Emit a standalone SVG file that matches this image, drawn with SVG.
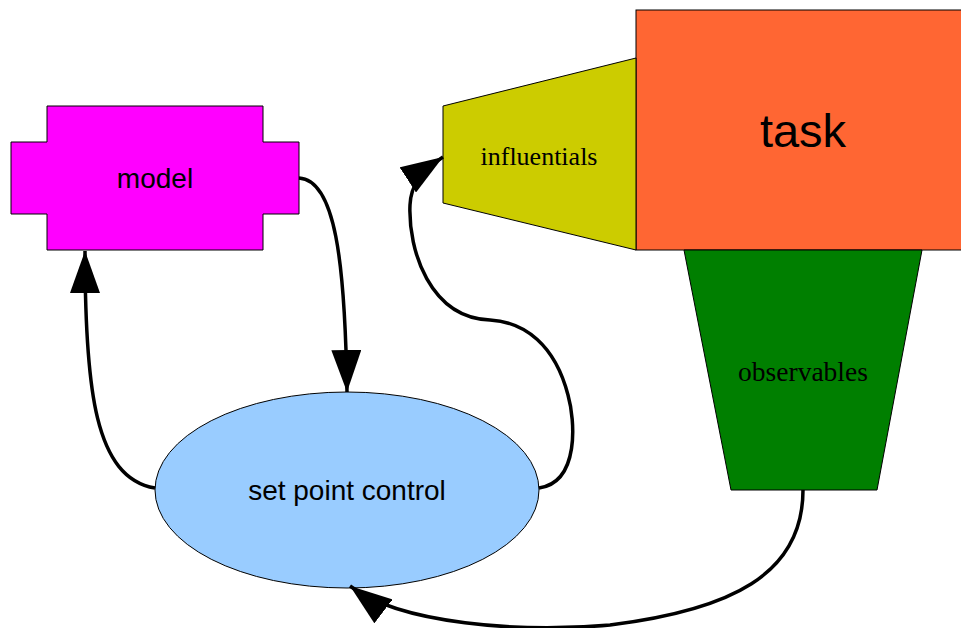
<svg xmlns="http://www.w3.org/2000/svg" width="961" height="628" viewBox="0 0 961 628">
<style>
.shape{stroke:#000;stroke-width:1}
.sans{font-family:"Liberation Sans",Arial,sans-serif;fill:#000;text-anchor:middle}
.serif{font-family:"Liberation Serif","Times New Roman",serif;fill:#000;text-anchor:middle}
.conn{fill:none;stroke:#000;stroke-width:3.5}
</style>
<defs>
<marker id="arr" markerUnits="userSpaceOnUse" viewBox="0 0 42 30" markerWidth="42" markerHeight="30" refX="42" refY="15" orient="auto">
<path d="M0,0 L42,15 L0,30 z" fill="#000"/>
</marker>
</defs>
<rect width="961" height="628" fill="#fff"/>
<g id="task">
<rect class="shape" x="636" y="10" width="326" height="240" fill="#FF6633"/>
<text class="sans" x="803" y="147" font-size="47">task</text>
</g>
<g id="influentials">
<polygon class="shape" points="443,106 636,58 636,250 443,203" fill="#CCCC00"/>
<text class="serif" x="539" y="165" font-size="26">influentials</text>
</g>
<g id="observables">
<polygon class="shape" points="684,250 922,250 877,490 731,490" fill="#007F00"/>
<text class="serif" x="803" y="381" font-size="27.5">observables</text>
</g>
<g id="model">
<polygon class="shape" points="47,106 263,106 263,142 299,142 299,214 263,214 263,250 47,250 47,214 11,214 11,142 47,142" fill="#FF00FF"/>
<text class="sans" x="155" y="188" font-size="28">model</text>
</g>
<g id="setpoint">
<ellipse class="shape" cx="347" cy="490" rx="192" ry="98" fill="#99CCFF"/>
<text class="sans" x="347" y="500" font-size="28">set point control</text>
</g>
<g id="connectors">
<path class="conn" marker-end="url(#arr)" d="M299,178 C335,180 345,260 347,392"/>
<path class="conn" marker-end="url(#arr)" d="M155,488 C95,478 85,390 85,251"/>
<path class="conn" marker-end="url(#arr)" d="M539,488 C580,482 575,420 568,395 C555,345 525,322 490,320 C430,318 408,250 410,205 C411,185 420,172 443,157"/>
<path class="conn" marker-end="url(#arr)" d="M803,490 C803,575 730,610 610,625 C520,633 400,624 350,586"/>
</g>
</svg>
